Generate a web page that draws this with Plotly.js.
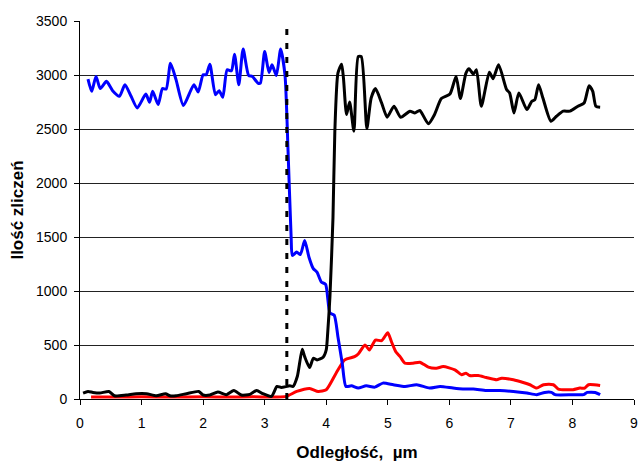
<!DOCTYPE html>
<html><head><meta charset="utf-8">
<script src="https://cdn.plot.ly/plotly-3.0.1.min.js"></script>
<style>body{margin:0;padding:0;background:#fff}#chart{width:641px;height:462px}</style>
</head><body><div id="chart"></div>
<script>
// Blue series
const blueX = [0.13,0.19,0.26,0.33,0.43,0.53,0.64,0.73,0.83,0.93,1.07,1.13,1.18,1.27,1.34,1.40,1.47,1.56,1.68,1.85,1.92,2.00,2.05,2.11,2.20,2.26,2.32,2.39,2.46,2.51,2.58,2.65,2.74,2.80,2.89,2.93,3.00,3.07,3.12,3.19,3.26,3.33,3.38,3.43,3.45,3.52,3.58,3.65,3.72,3.79,3.85,3.92,3.99,4.06,4.13,4.19,4.26,4.32,4.41,4.52,4.65,4.79,4.92,5.09,5.28,5.47,5.68,5.85,6.06,6.22,6.39,6.60,6.82,7.04,7.26,7.42,7.55,7.66,7.72,8.01,8.18,8.24,8.37,8.45];
const blueY = [2962,2849,2987,2874,2941,2855,2803,2910,2803,2695,2824,2747,2849,2726,2874,2870,3109,2957,2717,2910,2842,3002,3002,3100,2818,2855,2793,3048,3039,3192,2910,3241,2995,2987,2925,2925,3217,3024,3095,2996,3241,3002,2295,1498,1329,1360,1338,1467,1313,1207,1175,1083,1062,798,776,577,331,116,122,101,122,110,147,132,116,132,101,116,101,92,92,79,79,70,55,40,61,61,40,40,40,61,61,40];
// Red series
const redX = [0.18,0.6,1.0,1.5,2.0,2.43,2.8,3.19,3.35,3.52,3.73,3.87,4.00,4.16,4.30,4.46,4.52,4.63,4.70,4.80,4.90,5.00,5.06,5.13,5.20,5.28,5.41,5.52,5.66,5.79,5.90,6.09,6.20,6.27,6.33,6.47,6.60,6.77,6.85,7.04,7.20,7.31,7.42,7.53,7.69,7.77,8.01,8.12,8.20,8.26,8.45];
const redY = [18,18,20,18,20,18,20,18,24,70,98,70,86,239,362,392,417,500,454,546,540,613,530,438,392,331,331,341,295,285,300,270,224,239,217,217,199,178,193,178,153,132,101,132,132,92,86,101,101,132,125];
// Black series
const blackX = [0.05,0.13,0.21,0.32,0.47,0.56,0.75,0.91,1.08,1.24,1.39,1.46,1.56,1.73,1.93,2.00,2.11,2.24,2.38,2.50,2.62,2.76,2.87,2.97,3.11,3.20,3.27,3.41,3.46,3.53,3.61,3.65,3.73,3.79,3.85,3.95,4.00,4.02,4.06,4.11,4.14,4.19,4.25,4.28,4.33,4.38,4.45,4.52,4.57,4.66,4.73,4.80,4.90,4.99,5.10,5.21,5.36,5.44,5.52,5.66,5.76,5.87,6.01,6.11,6.18,6.27,6.32,6.39,6.44,6.52,6.65,6.71,6.80,6.93,6.98,7.05,7.13,7.26,7.34,7.39,7.45,7.52,7.65,7.74,7.85,7.96,8.09,8.19,8.27,8.33,8.38,8.45];
const blackY = [55,70,61,55,70,30,37,49,49,30,49,30,30,49,70,37,37,64,40,79,37,43,79,49,24,116,107,122,116,208,460,392,291,377,362,387,454,577,945,1682,2480,3017,3100,2971,2634,2750,2480,3171,3171,2505,2787,2874,2741,2609,2711,2609,2665,2649,2671,2548,2634,2782,2824,2987,2782,3017,3058,3008,3048,2711,3026,2966,3095,2865,2833,2649,2833,2680,2757,2772,2910,2787,2572,2618,2665,2665,2711,2741,2901,2849,2711,2702];
const interfaceX = 3.36;
const xTicks = [0,1,2,3,4,5,6,7,8,9];
const yTicks = [0,500,1000,1500,2000,2500,3000,3500];

const mk = (x, y, c) => ({x, y, type:'scatter', mode:'lines', line:{color:c, width:3, shape:'spline', smoothing:0.6}, hoverinfo:'skip', showlegend:false});
const data = [mk(redX, redY, '#FF0000'), mk(blueX, blueY, '#0000FF'), mk(blackX, blackY, '#000000')];

const layout = {
  width:641, height:462,
  margin:{l:80, r:7, t:21, b:62.5},
  paper_bgcolor:'#fff', plot_bgcolor:'#fff',
  font:{family:'Liberation Sans, Arial, sans-serif', size:14, color:'#000'},
  xaxis:{range:[0,9], tickvals:xTicks, ticktext:xTicks.map(String), showgrid:false, zeroline:false,
    showline:true, linecolor:'#000', linewidth:1, ticks:'outside', ticklen:5, tickcolor:'#000',
    ticklabelstandoff:6,
    tickfont:{size:14}, title:{text:'<b>Odległość,\u00a0\u00a0µm</b>', font:{size:17}, standoff:17}},
  yaxis:{range:[0,3500], tickvals:yTicks, ticktext:yTicks.map(String), showgrid:true, gridcolor:'#222', gridwidth:1,
    zeroline:false, showline:true, linecolor:'#000', linewidth:1, ticks:'outside', ticklen:5, tickcolor:'#000',
    ticklabelstandoff:4,
    tickfont:{size:14}, title:{text:'<b>Ilość zliczeń</b>', font:{size:17}, standoff:8}},
  shapes:[{type:'line', xref:'x', yref:'y', x0:interfaceX, x1:interfaceX, y0:0, y1:3500,
    line:{color:'#000', width:3, dash:'6px,8px'}}]
};
Plotly.newPlot('chart', data, layout, {staticPlot:true, displayModeBar:false});
</script></body></html>
